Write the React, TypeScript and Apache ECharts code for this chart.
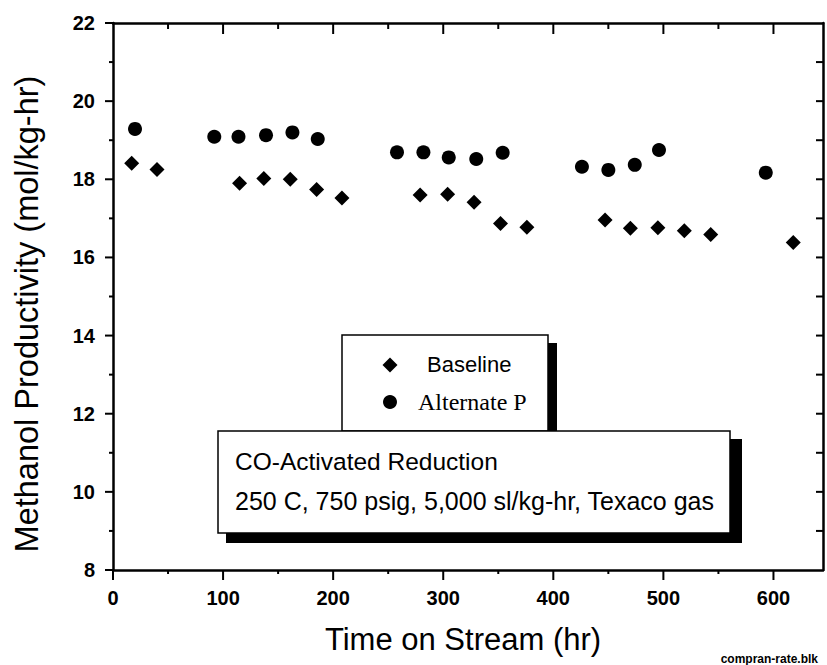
import React, { useEffect, useRef } from "react";
import * as echarts from "echarts";

const baselineX = [17, 40, 115, 137, 161, 185, 208, 279, 304, 328, 352, 376, 447, 470, 495, 519, 543, 618];
const baselineY = [18.41, 18.25, 17.9, 18.02, 18.0, 17.74, 17.52, 17.6, 17.62, 17.41, 16.87, 16.77, 16.96, 16.75, 16.76, 16.68, 16.59, 16.38];

const altX = [20, 92, 114, 139, 163, 186, 258, 282, 305, 330, 354, 426, 450, 474, 496, 593];
const altY = [19.29, 19.09, 19.09, 19.13, 19.2, 19.03, 18.69, 18.69, 18.56, 18.52, 18.68, 18.32, 18.24, 18.37, 18.75, 18.17];

const xMajorTicks = [0, 100, 200, 300, 400, 500, 600];
const xMinorTicks = [50, 150, 250, 350, 450, 550];
const yMajorTicks = [8, 10, 12, 14, 16, 18, 20, 22];
const yMinorTicks = [9, 11, 13, 15, 17, 19, 21];
const yRightTicks = [9, 10, 11, 12, 13, 14, 15, 16, 17, 18, 19, 20, 21];

const xLabelStep = 100;
const yLabelStep = 2;

const X_MIN = 0;
const X_MAX = 645;
const Y_MIN = 8;
const Y_MAX = 22;

const seriesNames = ["Baseline", "Alternate P"];
const xTitle = "Time on Stream (hr)";
const yTitle = "Methanol Productivity (mol/kg-hr)";
const noteLine1 = "CO-Activated Reduction";
const noteLine2 = "250 C, 750 psig, 5,000 sl/kg-hr, Texaco gas";
const footnote = "compran-rate.blk";

const SANS = "'Liberation Sans', Arial, sans-serif";
const SERIF = "'Liberation Serif', 'Times New Roman', serif";

type Tick = { axis: "x" | "y"; v: number; side: "bottom" | "top" | "left" | "right"; len: number };

export default function App() {
  const ref = useRef<HTMLDivElement>(null);

  useEffect(() => {
    if (!ref.current) return;
    const chart = echarts.init(ref.current, undefined, { renderer: "svg" });

    const ticks: Tick[] = [
      ...xMajorTicks.map((v) => ({ axis: "x" as const, v, side: "bottom" as const, len: 10 })),
      ...xMinorTicks.map((v) => ({ axis: "x" as const, v, side: "bottom" as const, len: 4 })),
      ...xMajorTicks.slice(1).map((v) => ({ axis: "x" as const, v, side: "top" as const, len: 11 })),
      ...xMinorTicks.map((v) => ({ axis: "x" as const, v, side: "top" as const, len: 6 })),
      ...yMajorTicks.map((v) => ({ axis: "y" as const, v, side: "left" as const, len: 8 })),
      ...yMinorTicks.map((v) => ({ axis: "y" as const, v, side: "left" as const, len: 4 })),
      ...yRightTicks.map((v) => ({ axis: "y" as const, v, side: "right" as const, len: 7 })),
    ];

    const line = () => ({ show: true, onZero: false, lineStyle: { color: "#000", width: 2.5 } });
    const labelStyle = { color: "#000", fontFamily: SANS, fontWeight: "bold", fontSize: 20, margin: 18 };

    const graphics: any[] = [
      {
        type: "text",
        x: 463,
        y: 639,
        style: { text: xTitle, fontFamily: SANS, fontSize: 31, fill: "#000", textAlign: "center", textVerticalAlign: "middle" },
      },
      {
        type: "text",
        x: 27,
        y: 314,
        rotation: Math.PI / 2,
        style: { text: yTitle, fontFamily: SANS, fontSize: 32.5, fill: "#000", textAlign: "center", textVerticalAlign: "middle" },
      },
      { type: "rect", shape: { x: 349, y: 343, width: 208, height: 90 }, style: { fill: "#000" } },
      {
        type: "rect",
        shape: { x: 342, y: 335, width: 206, height: 96 },
        style: { fill: "#fff", stroke: "#000", lineWidth: 1.5 },
      },
      {
        type: "polygon",
        shape: { points: [[390, 357.5], [397.5, 365], [390, 372.5], [382.5, 365]] },
        style: { fill: "#000" },
      },
      { type: "circle", shape: { cx: 390, cy: 402, r: 7 }, style: { fill: "#000" } },
      {
        type: "text",
        x: 427,
        y: 364,
        style: { text: seriesNames[0], fontFamily: SANS, fontSize: 22, fill: "#000", textAlign: "left", textVerticalAlign: "middle" },
      },
      {
        type: "text",
        x: 418,
        y: 402,
        style: { text: seriesNames[1], fontFamily: SERIF, fontSize: 24, fill: "#000", textAlign: "left", textVerticalAlign: "middle" },
      },
      { type: "rect", shape: { x: 226, y: 439, width: 516, height: 104 }, style: { fill: "#000" } },
      {
        type: "rect",
        shape: { x: 218, y: 431, width: 512, height: 102 },
        style: { fill: "#fff", stroke: "#000", lineWidth: 1.5 },
      },
      {
        type: "text",
        x: 235,
        y: 461,
        style: { text: noteLine1, fontFamily: SANS, fontSize: 24.5, fill: "#000", textAlign: "left", textVerticalAlign: "middle" },
      },
      {
        type: "text",
        x: 235,
        y: 501,
        style: { text: noteLine2, fontFamily: SANS, fontSize: 25, fill: "#000", textAlign: "left", textVerticalAlign: "middle" },
      },
      {
        type: "text",
        x: 818,
        y: 659,
        style: { text: footnote, fontFamily: SANS, fontSize: 12, fontWeight: "bold", fill: "#000", textAlign: "right", textVerticalAlign: "middle" },
      },
    ];

    const option: any = {
      animation: false,
      backgroundColor: "#fff",
      grid: { left: 113, right: 4, top: 23, bottom: 95 },
      xAxis: [
        {
          type: "value",
          min: X_MIN,
          max: X_MAX,
          interval: xLabelStep,
          position: "bottom",
          splitLine: { show: false },
          axisLine: line(),
          axisTick: { show: false },
          axisLabel: {
            show: true,
            ...labelStyle,
            formatter: (v: number) => (v % xLabelStep === 0 ? String(v) : ""),
          },
        },
        {
          type: "value",
          min: X_MIN,
          max: X_MAX,
          interval: xLabelStep,
          position: "top",
          splitLine: { show: false },
          axisLine: line(),
          axisTick: { show: false },
          axisLabel: { show: false },
        },
      ],
      yAxis: [
        {
          type: "value",
          min: Y_MIN,
          max: Y_MAX,
          interval: yLabelStep,
          position: "left",
          splitLine: { show: false },
          axisLine: line(),
          axisTick: { show: false },
          axisLabel: { show: true, ...labelStyle },
        },
        {
          type: "value",
          min: Y_MIN,
          max: Y_MAX,
          interval: yLabelStep,
          position: "right",
          splitLine: { show: false },
          axisLine: line(),
          axisTick: { show: false },
          axisLabel: { show: false },
        },
      ],
      series: [
        {
          name: seriesNames[0],
          type: "scatter",
          xAxisIndex: 0,
          yAxisIndex: 0,
          symbol: "diamond",
          symbolSize: 15,
          itemStyle: { color: "#000", opacity: 1 },
          data: baselineX.map((x, i) => [x, baselineY[i]]),
        },
        {
          name: seriesNames[1],
          type: "scatter",
          xAxisIndex: 0,
          yAxisIndex: 0,
          symbol: "circle",
          symbolSize: 14,
          itemStyle: { color: "#000", opacity: 1 },
          data: altX.map((x, i) => [x, altY[i]]),
        },
      ],
      graphic: graphics,
    };

    chart.setOption(option);

    // tick marks placed through the chart's own scale
    const tickLines: any[] = [];
    ticks.forEach((t) => {
      const p: any =
        t.axis === "x"
          ? chart.convertToPixel({ gridIndex: 0 } as any, [t.v, t.side === "bottom" ? Y_MIN : Y_MAX])
          : chart.convertToPixel({ gridIndex: 0 } as any, [t.side === "left" ? X_MIN : X_MAX, t.v]);
      if (!p || !isFinite(p[0]) || !isFinite(p[1])) return;
      let shape;
      if (t.axis === "x") {
        shape = { x1: p[0], y1: p[1], x2: p[0], y2: p[1] + t.len };
      } else {
        shape = { x1: p[0] - t.len, y1: p[1], x2: p[0], y2: p[1] };
      }
      tickLines.push({ type: "line", z: 10, shape, style: { stroke: "#000", lineWidth: 2 } });
    });
    chart.setOption({ graphic: [...graphics, ...tickLines] });

    return () => chart.dispose();
  }, []);

  return (
    <div
      ref={ref}
      style={{ position: "absolute", left: 0, top: 0, width: 827, height: 665, background: "#fff" }}
    />
  );
}
